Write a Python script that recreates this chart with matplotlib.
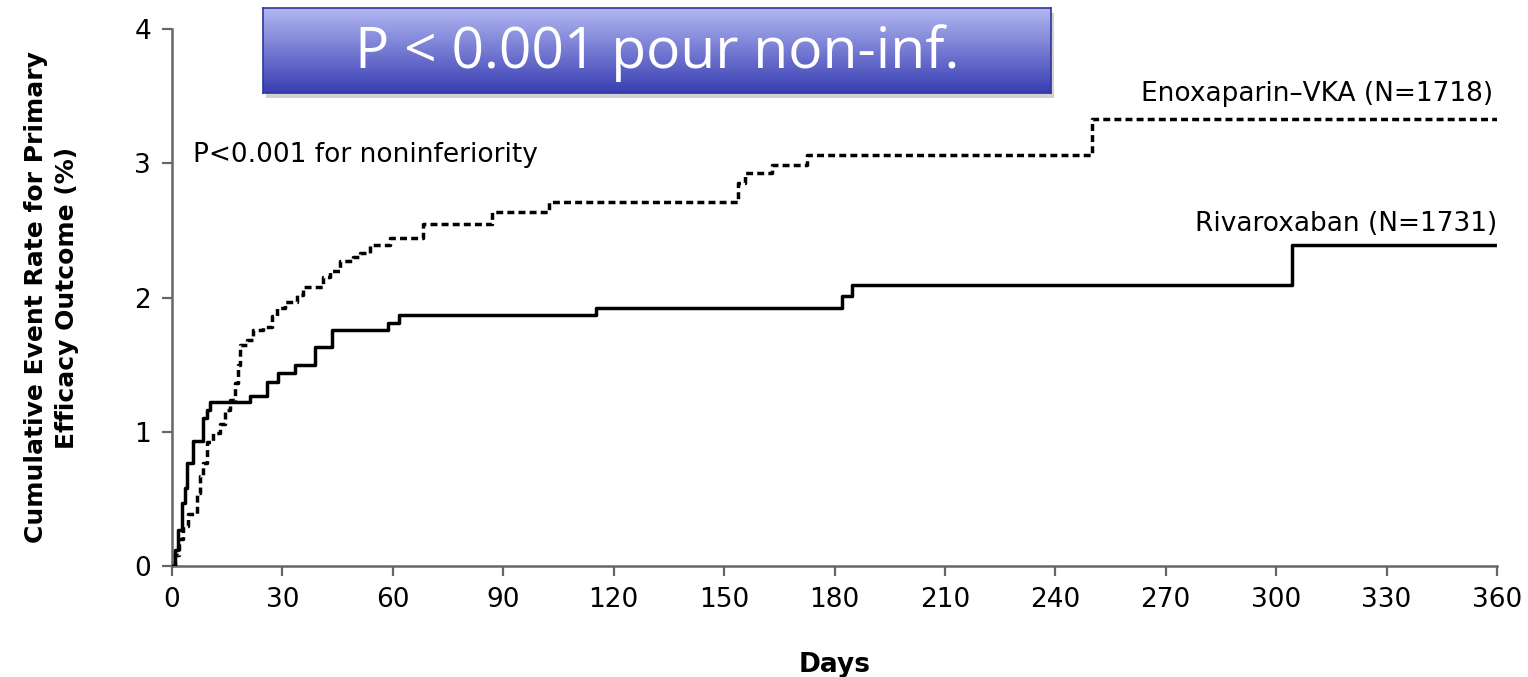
import numpy as np
import matplotlib.pyplot as plt
from matplotlib.patches import Rectangle

# Kaplan-Meier style step data (day of event, cumulative rate %)
riva_days = [0, 0.8, 1.7, 2.6, 3.5, 4.0, 5.6, 8.5, 9.4, 10.3, 21.3, 25.7,
             28.9, 33.4, 38.9, 43.4, 58.8, 61.8, 115.2, 182.0, 184.7, 304.3, 360]
riva_rate = [0, 0.12, 0.27, 0.47, 0.58, 0.77, 0.93, 1.10, 1.16, 1.22, 1.27, 1.37,
             1.44, 1.50, 1.63, 1.76, 1.81, 1.87, 1.92, 2.01, 2.09, 2.39, 2.39]

enox_days = [0, 0.8, 2.0, 3.0, 4.3, 6.7, 7.6, 8.5, 9.4, 11.2, 13.0, 14.4, 15.8,
             17.1, 18.0, 18.5, 20.3, 22.1, 24.8, 27.1, 28.4, 30.7, 33.9, 35.7,
             41.1, 42.9, 45.7, 49.3, 51.1, 53.8, 59.2, 68.3, 86.9, 102.3, 153.9,
             155.7, 163.0, 172.5, 249.9, 360]
enox_rate = [0, 0.08, 0.2, 0.3, 0.39, 0.54, 0.67, 0.77, 0.92, 0.99, 1.06, 1.16, 1.24,
             1.36, 1.50, 1.65, 1.68, 1.76, 1.78, 1.86, 1.92, 1.97, 2.02, 2.08,
             2.15, 2.20, 2.27, 2.30, 2.33, 2.39, 2.44, 2.55, 2.64, 2.71, 2.85,
             2.93, 2.99, 3.06, 3.33, 3.33]

x_ticks = list(range(0, 361, 30))
y_ticks = [0, 1, 2, 3, 4]

fig = plt.figure(figsize=(15.28, 6.77), dpi=100)
ax = fig.add_axes([0.1126, 0.164, 0.8671, 0.793])

ax.step(riva_days, riva_rate, where="post", color="black", lw=2.5, zorder=3)
ax.step(enox_days, enox_rate, where="post", color="black", lw=2.5,
        linestyle=(0, (2.0, 1.2)), zorder=3)

ax.set_xlim(0, 360)
ax.set_ylim(0, 4)
ax.set_xticks(x_ticks)
ax.set_yticks(y_ticks)
ax.tick_params(labelsize=19, length=7, width=1.6, color="#666666", pad=8)
for side in ["top", "right"]:
    ax.spines[side].set_visible(False)
for side in ["left", "bottom"]:
    ax.spines[side].set_color("#666666")
    ax.spines[side].set_linewidth(1.8)

ax.set_xlabel("Days", fontsize=19, fontweight="bold", labelpad=28)
ax.set_ylabel("Cumulative Event Rate for Primary\nEfficacy Outcome (%)",
              fontsize=18, fontweight="bold", labelpad=40, linespacing=1.35)

ax.text(5.7, 3.06, "P<0.001 for noninferiority", fontsize=19, va="center", ha="left")
ax.text(359, 3.52, "Enoxaparin\u2013VKA (N=1718)", fontsize=19, va="center", ha="right")
ax.text(360, 2.55, "Rivaroxaban (N=1731)", fontsize=19, va="center", ha="right")

# blue gradient banner at top
bx, by, bw, bh = 263 / 1528, 1 - 93 / 677, 788 / 1528, 85 / 677
fig.patches.append(Rectangle((bx + 0.002, by - 0.008), bw, bh, transform=fig.transFigure,
                             facecolor="#999999", alpha=0.45, edgecolor="none", zorder=5))
bax = fig.add_axes([bx, by, bw, bh], zorder=6)
grad = np.linspace(0, 1, 256).reshape(-1, 1)
top = np.array([0.70, 0.72, 0.95])
bot = np.array([0.22, 0.24, 0.70])
img = top + (bot - top) * grad[:, :, None]
bax.imshow(img, aspect="auto", extent=[0, 1, 0, 1], origin="upper")
bax.set_xticks([])
bax.set_yticks([])
for s in bax.spines.values():
    s.set_color("#3035a0")
    s.set_linewidth(1.2)
bax.text(0.5, 0.47, "P < 0.001 pour non-inf.", color="white", fontsize=41,
         family="Open Sans", fontweight="medium", ha="center", va="center",
         transform=bax.transAxes)

fig.savefig("out.png", dpi=100)
